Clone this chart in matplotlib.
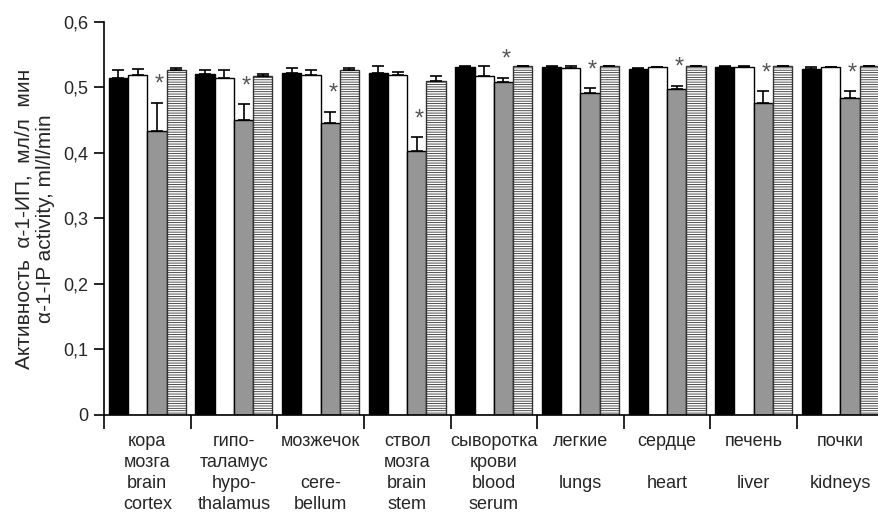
import numpy as np
import matplotlib.pyplot as plt

plt.rcParams['font.family'] = ['Liberation Sans', 'DejaVu Sans']
plt.rcParams['hatch.linewidth'] = 0.6

# Tissue groups (Russian / English)
labels = ["кора\nмозга\nbrain\ncortex",
          "гипо-\nталамус\nhypo-\nthalamus",
          "мозжечок\n\ncere-\nbellum",
          "ствол\nмозга\nbrain\nstem",
          "сыворотка\nкрови\nblood\nserum",
          "легкие\n\nlungs\n",
          "сердце\n\nheart\n",
          "печень\n\nliver\n",
          "почки\n\nkidneys\n"]

# Activity means (ml/l/min) and upper error bars
black_vals = [0.515, 0.520, 0.522, 0.522, 0.532, 0.532, 0.528, 0.532, 0.528]
black_err = [0.012, 0.007, 0.007, 0.011, 0.001, 0.001, 0.001, 0.001, 0.003]
white_vals = [0.519, 0.515, 0.519, 0.519, 0.517, 0.530, 0.531, 0.531, 0.531]
white_err = [0.009, 0.012, 0.008, 0.005, 0.016, 0.003, 0.001, 0.002, 0.001]
gray_vals = [0.433, 0.451, 0.445, 0.403, 0.509, 0.491, 0.497, 0.477, 0.484]
gray_err = [0.044, 0.024, 0.018, 0.021, 0.006, 0.008, 0.006, 0.017, 0.010]
hatch_vals = [0.527, 0.518, 0.527, 0.510, 0.533, 0.533, 0.533, 0.533, 0.533]
hatch_err = [0.002, 0.002, 0.002, 0.007, 0.0, 0.0, 0.0, 0.0, 0.0]

fig = plt.figure(figsize=(8.79, 5.12), dpi=100)
ax = fig.add_axes([0.1183, 0.1895, 0.887, 0.7676])

x = np.arange(len(labels)) + 0.5
w = 0.222
txt = '#262626'

series = [
    (black_vals, black_err, dict(color='black', edgecolor='black')),
    (white_vals, white_err, dict(color='white', edgecolor='black')),
    (gray_vals, gray_err, dict(color='#969696', edgecolor='black')),
    (hatch_vals, hatch_err, dict(color='white', edgecolor='#333333', hatch='-------')),
]
for i, (vals, err, style) in enumerate(series):
    pos = x + (i - 1.5) * w
    ax.bar(pos, vals, w, linewidth=1.0, zorder=2, **style)
    ax.errorbar(pos, vals, yerr=[np.zeros(len(err)), err], fmt='none',
                ecolor='black', elinewidth=1.2, capsize=4.2, capthick=1.2, zorder=3)

# significance marks over the grey bars
gray_pos = x + 0.5 * w
for xp, v, e in zip(gray_pos, gray_vals, gray_err):
    ax.text(xp + 0.03, v + e + 0.027, '*', ha='center', va='center',
            fontsize=17, color='#555555')

ax.set_xlim(0, len(labels))
ax.set_ylim(0, 0.6)
ax.set_yticks(np.arange(0, 0.61, 0.1))
ax.set_yticklabels(['0', '0,1', '0,2', '0,3', '0,4', '0,5', '0,6'])
ax.set_xticks(np.arange(len(labels) + 1))
ax.set_xticklabels([])
ax.set_xticks(x, minor=True)
ax.set_xticklabels(labels, minor=True, fontsize=13, color=txt, linespacing=1.3)
ax.tick_params(axis='x', which='major', length=10, width=1.2, direction='out')
ax.tick_params(axis='x', which='minor', length=0, pad=13)
ax.tick_params(axis='y', length=7, width=1.2, labelsize=13, labelcolor=txt, pad=4)

for s in ['top', 'right']:
    ax.spines[s].set_visible(False)
for s in ['left', 'bottom']:
    ax.spines[s].set_linewidth(1.2)

ax.set_ylabel("Активность  α-1-ИП,  мл/л  мин\nα-1-IP activity, ml/l/min",
              fontsize=15, color=txt, labelpad=6, linespacing=1.15)

fig.savefig('out.png', dpi=100)
